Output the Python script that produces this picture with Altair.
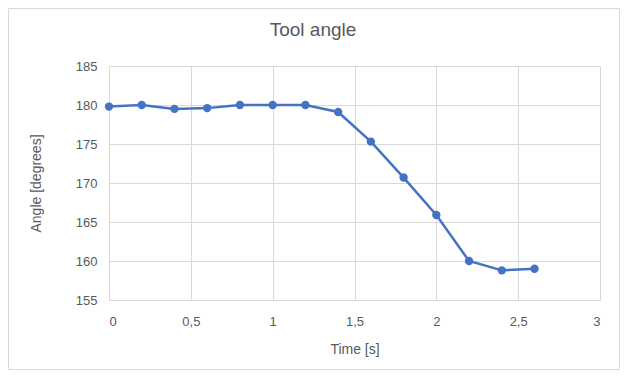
import altair as alt
import pandas as pd

time_s = [0, 0.2, 0.4, 0.6, 0.8, 1.0, 1.2, 1.4, 1.6, 1.8, 2.0, 2.2, 2.4, 2.6]
angle_deg = [179.8, 180.0, 179.5, 179.6, 180.0, 180.0, 180.0, 179.1, 175.3, 170.7, 165.9, 160.0, 158.8, 159.0]
title_text = ["Tool angle"]

df = pd.DataFrame({"t": time_s, "a": angle_deg})

font = "Liberation Sans"
gray = "#595959"
blue = "#4472C4"

x = alt.X("t:Q", scale=alt.Scale(domain=[0, 3], nice=False, zero=False),
          axis=alt.Axis(title="Time [s]", values=[0, 0.5, 1, 1.5, 2, 2.5, 3],
                        labelExpr="replace(toString(datum.value), '.', ',')",
                        ticks=False, domain=True, domainColor="#d9d9d9",
                        grid=True, gridColor="#d9d9d9", labelPadding=15,
                        titlePadding=14, labelFontSize=13, titleFontSize=14,
                        labelColor=gray, titleColor=gray, labelFont=font,
                        titleFont=font, titleFontWeight="normal"))
y = alt.Y("a:Q", scale=alt.Scale(domain=[155, 185], nice=False, zero=False),
          axis=alt.Axis(title="Angle [degrees]", values=[155, 160, 165, 170, 175, 180, 185],
                        ticks=False, domain=False, grid=True, gridColor="#d9d9d9",
                        labelPadding=12, titlePadding=32, labelFontSize=13,
                        titleFontSize=14, labelColor=gray, titleColor=gray,
                        labelFont=font, titleFont=font, titleFontWeight="normal"))

line = alt.Chart(df).mark_line(color=blue, strokeWidth=2.5).encode(x=x, y=y)
pts = alt.Chart(df).mark_circle(color=blue, size=70, opacity=1).encode(x=x, y=y)

border = alt.Chart(pd.DataFrame({"k": [0]})).mark_rect(
    fill=None, stroke="#d9d9d9", strokeWidth=1
).encode(x=alt.value(-100.5), x2=alt.value(510.5), y=alt.value(-57.5), y2=alt.value(303.5))

title = alt.Chart(pd.DataFrame({"txt": title_text})).mark_text(
    fontSize=19, color=gray, font=font, align="center", baseline="middle"
).encode(text="txt:N", x=alt.value(204), y=alt.value(-36))

chart = alt.layer(border, title, line, pts).properties(
    width=491, height=234,
    autosize=alt.AutoSizeParams(type="none"),
    padding={"left": 101, "top": 58, "right": 20, "bottom": 70},
).configure_view(stroke=None)

chart.save("out.html", embed_options={"renderer": "svg", "actions": False})
